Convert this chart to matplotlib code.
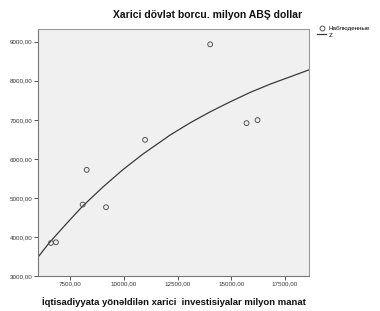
import numpy as np
import matplotlib
matplotlib.use("Agg")
import matplotlib.pyplot as plt
from matplotlib.lines import Line2D

plt.rcParams['font.family'] = ['Liberation Sans', 'DejaVu Sans']

invest = [6616, 6848, 8091, 8277, 9176, 10992, 14018, 15708, 16220]
debt = [3846, 3864, 4831, 5718, 4762, 6487, 8933, 6915, 6992]

# fitted curve "Z"
z_x = [5996, 6536, 7467, 8091, 9022, 9953, 10885, 11816, 12155, 13087,
       14018, 14949, 15880, 16811, 17742, 18673]
z_y = [3470, 3850, 4420, 4790, 5274, 5720, 6121, 6479, 6610, 6923,
       7205, 7462, 7703, 7915, 8103, 8292]

xticks = [7500, 10000, 12500, 15000, 17500]
yticks = [3000, 4000, 5000, 6000, 7000, 8000, 9000]

title = "Xarici dövlət borcu. milyon ABŞ dollar"
xlabel = "İqtisadiyyata yönəldilən xarici  investisiyalar milyon manat"
legend_obs = "Наблюденные"
legend_fit = "Z"

fig = plt.figure(figsize=(3.8, 3.11), dpi=100)
ax = fig.add_axes([0.0992, 0.1125, 0.715, 0.7935])
ax.set_facecolor('#f0f0f0')

ax.plot(z_x, z_y, color='#3a3a3a', lw=0.9)
ax.scatter(invest, debt, s=12, facecolors='none', edgecolors='#555555', linewidths=0.7, zorder=3)

ax.set_xlim(6000, 18630)
ax.set_ylim(3000, 9320)
ax.set_xticks(xticks)
ax.set_yticks(yticks)
ax.set_xticklabels([f"{v},00" for v in xticks])
ax.set_yticklabels([f"{v},00" for v in yticks])
ax.tick_params(labelsize=4.5, length=3, width=0.7, colors='#555555', labelcolor='#333333', pad=1)
for s in ax.spines.values():
    s.set_color('#999999')
    s.set_linewidth(0.8)
ax.spines['left'].set_color('#777777')
ax.spines['bottom'].set_color('#777777')

fig.text(0.545, 0.952, title, ha='center', va='center', fontsize=7.5, fontweight='bold', color='#111111')
fig.text(0.4566, 0.03, xlabel, ha='center', va='center', fontsize=6.8, fontweight='bold', color='#111111')

handles = [Line2D([], [], ls='none', marker='o', mfc='none', mec='#555555', ms=3.5, mew=0.7),
           Line2D([], [], color='#3a3a3a', lw=0.9)]
fig.legend(handles, [legend_obs, legend_fit], loc='upper left', bbox_to_anchor=(0.835, 0.918),
           frameon=False, fontsize=4.5, handlelength=1.4, handletextpad=0.4,
           labelspacing=0.2, borderpad=0, borderaxespad=0)

fig.savefig('out.png', dpi=100, facecolor='white')
